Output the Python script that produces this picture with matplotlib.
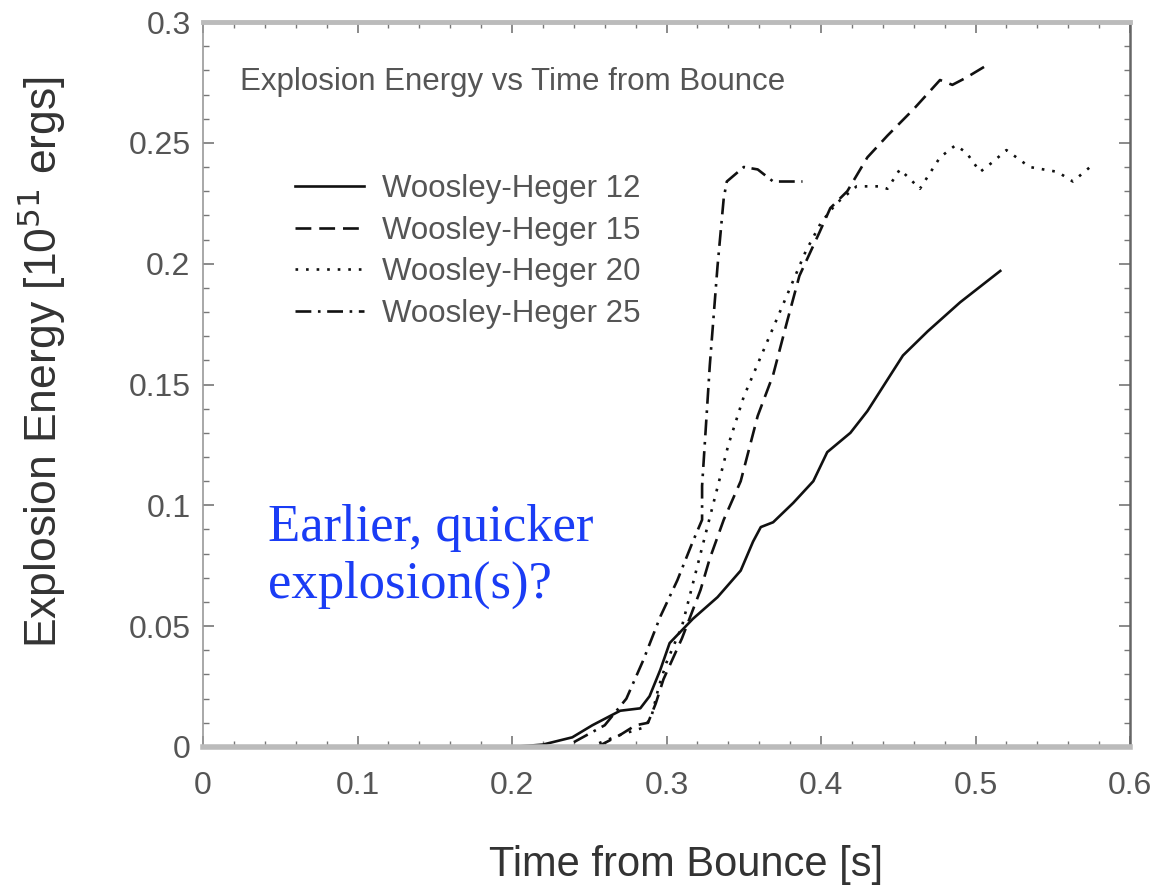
import matplotlib
matplotlib.use("Agg")
import matplotlib.pyplot as plt
from matplotlib.ticker import MultipleLocator, FuncFormatter

plt.rcParams['font.family'] = ['Liberation Sans', 'DejaVu Sans']

# Woosley-Heger 12 (solid)
t12 = [0.177, 0.200, 0.220, 0.239, 0.252, 0.270, 0.283, 0.289, 0.296, 0.302, 0.317,
       0.333, 0.348, 0.356, 0.361, 0.369, 0.382, 0.395, 0.404, 0.419, 0.430, 0.443,
       0.453, 0.469, 0.490, 0.516]
e12 = [0.000, 0.000, 0.001, 0.004, 0.009, 0.015, 0.016, 0.021, 0.032, 0.043, 0.053,
       0.062, 0.073, 0.085, 0.091, 0.093, 0.101, 0.110, 0.122, 0.130, 0.139, 0.152,
       0.162, 0.172, 0.184, 0.197]

# Woosley-Heger 15 (dashed)
t15 = [0.255, 0.270, 0.280, 0.288, 0.293, 0.298, 0.310, 0.322, 0.328, 0.337, 0.348,
       0.359, 0.369, 0.378, 0.386, 0.399, 0.406, 0.417, 0.430, 0.443, 0.460, 0.477,
       0.485, 0.494, 0.507]
e15 = [0.000, 0.005, 0.009, 0.010, 0.018, 0.028, 0.045, 0.065, 0.078, 0.094, 0.110,
       0.137, 0.154, 0.176, 0.195, 0.213, 0.223, 0.230, 0.244, 0.253, 0.264, 0.276,
       0.274, 0.277, 0.282]

# Woosley-Heger 20 (dotted)
t20 = [0.250, 0.270, 0.285, 0.290, 0.295, 0.300, 0.310, 0.320, 0.330, 0.340, 0.350,
       0.360, 0.370, 0.380, 0.390, 0.400, 0.410, 0.423, 0.438, 0.443, 0.451, 0.456,
       0.464, 0.471, 0.477, 0.487, 0.494, 0.503, 0.511, 0.520, 0.535, 0.553, 0.563,
       0.576]
e20 = [0.000, 0.005, 0.008, 0.012, 0.025, 0.035, 0.050, 0.075, 0.100, 0.125, 0.145,
       0.160, 0.175, 0.190, 0.205, 0.217, 0.225, 0.232, 0.232, 0.231, 0.239, 0.236,
       0.231, 0.238, 0.244, 0.249, 0.246, 0.238, 0.242, 0.247, 0.240, 0.238, 0.234,
       0.241]

# Woosley-Heger 25 (dash-dot)
t25 = [0.240, 0.260, 0.274, 0.285, 0.296, 0.307, 0.317, 0.323, 0.323, 0.328, 0.333,
       0.337, 0.339, 0.350, 0.359, 0.369, 0.382, 0.388]
e25 = [0.002, 0.009, 0.020, 0.036, 0.054, 0.069, 0.085, 0.094, 0.108, 0.158, 0.199,
       0.227, 0.234, 0.240, 0.239, 0.234, 0.234, 0.234]

fig = plt.figure(figsize=(11.57, 8.88), dpi=100)
ax = fig.add_axes([0.1755, 0.1588, 0.8012, 0.8164])

lw = 1.9
ax.plot(t12, e12, color='#111111', lw=lw, ls='-', label='Woosley-Heger 12')
ax.plot(t15, e15, color='#111111', lw=lw, ls=(0, (6, 3)), label='Woosley-Heger 15')
ax.plot(t20, e20, color='#111111', lw=lw, ls=(0, (1, 3)), label='Woosley-Heger 20')
ax.plot(t25, e25, color='#111111', lw=lw, ls=(0, (6, 2.5, 1, 2.5)), label='Woosley-Heger 25')

ax.set_xlim(0, 0.6)
ax.set_ylim(0, 0.3)
ax.xaxis.set_major_locator(MultipleLocator(0.1))
ax.xaxis.set_minor_locator(MultipleLocator(0.02))
ax.yaxis.set_major_locator(MultipleLocator(0.05))
ax.yaxis.set_minor_locator(MultipleLocator(0.01))
fmt = FuncFormatter(lambda v, pos: '%g' % round(v, 3))
ax.xaxis.set_major_formatter(fmt)
ax.yaxis.set_major_formatter(fmt)
ax.tick_params(which='both', direction='in', top=True, right=True, colors='#777777')
ax.tick_params(which='major', length=8, width=1.2, labelsize=23, labelcolor='#555555')
ax.tick_params(which='minor', length=4, width=1.0)
ax.tick_params(axis='x', which='major', pad=17)
ax.tick_params(axis='y', which='major', pad=9)

ax.spines['top'].set_color('#bbbbbb')
ax.spines['top'].set_linewidth(3.5)
ax.spines['bottom'].set_color('#bbbbbb')
ax.spines['bottom'].set_linewidth(4)
ax.spines['left'].set_color('#999999')
ax.spines['left'].set_linewidth(1.2)
ax.spines['right'].set_color('#666666')
ax.spines['right'].set_linewidth(1.8)

ax.set_xlabel('Time from Bounce [s]', fontsize=30, color='#333333')
ax.set_ylabel('Explosion Energy [10$^{51}$ ergs]', fontsize=32, color='#333333')
ax.xaxis.set_label_coords(0.521, -0.135)
ax.yaxis.set_label_coords(-0.146, 0.531)

ax.text(0.04, 0.917, 'Explosion Energy vs Time from Bounce', transform=ax.transAxes,
        fontsize=22.5, color='#555555', ha='left', va='center')

ax.legend(loc='upper left', bbox_to_anchor=(0.099, 0.790), frameon=False,
          fontsize=22.5, handlelength=2.2, handletextpad=0.6, labelspacing=0.37,
          borderpad=0, borderaxespad=0, labelcolor='#555555')

ax.text(0.070, 0.263, 'Earlier, quicker\nexplosion(s)?', transform=ax.transAxes,
        fontsize=38, color='#1a3cf5', family='Liberation Serif',
        ha='left', va='center', linespacing=1.25)

fig.savefig('out.png', dpi=100)
